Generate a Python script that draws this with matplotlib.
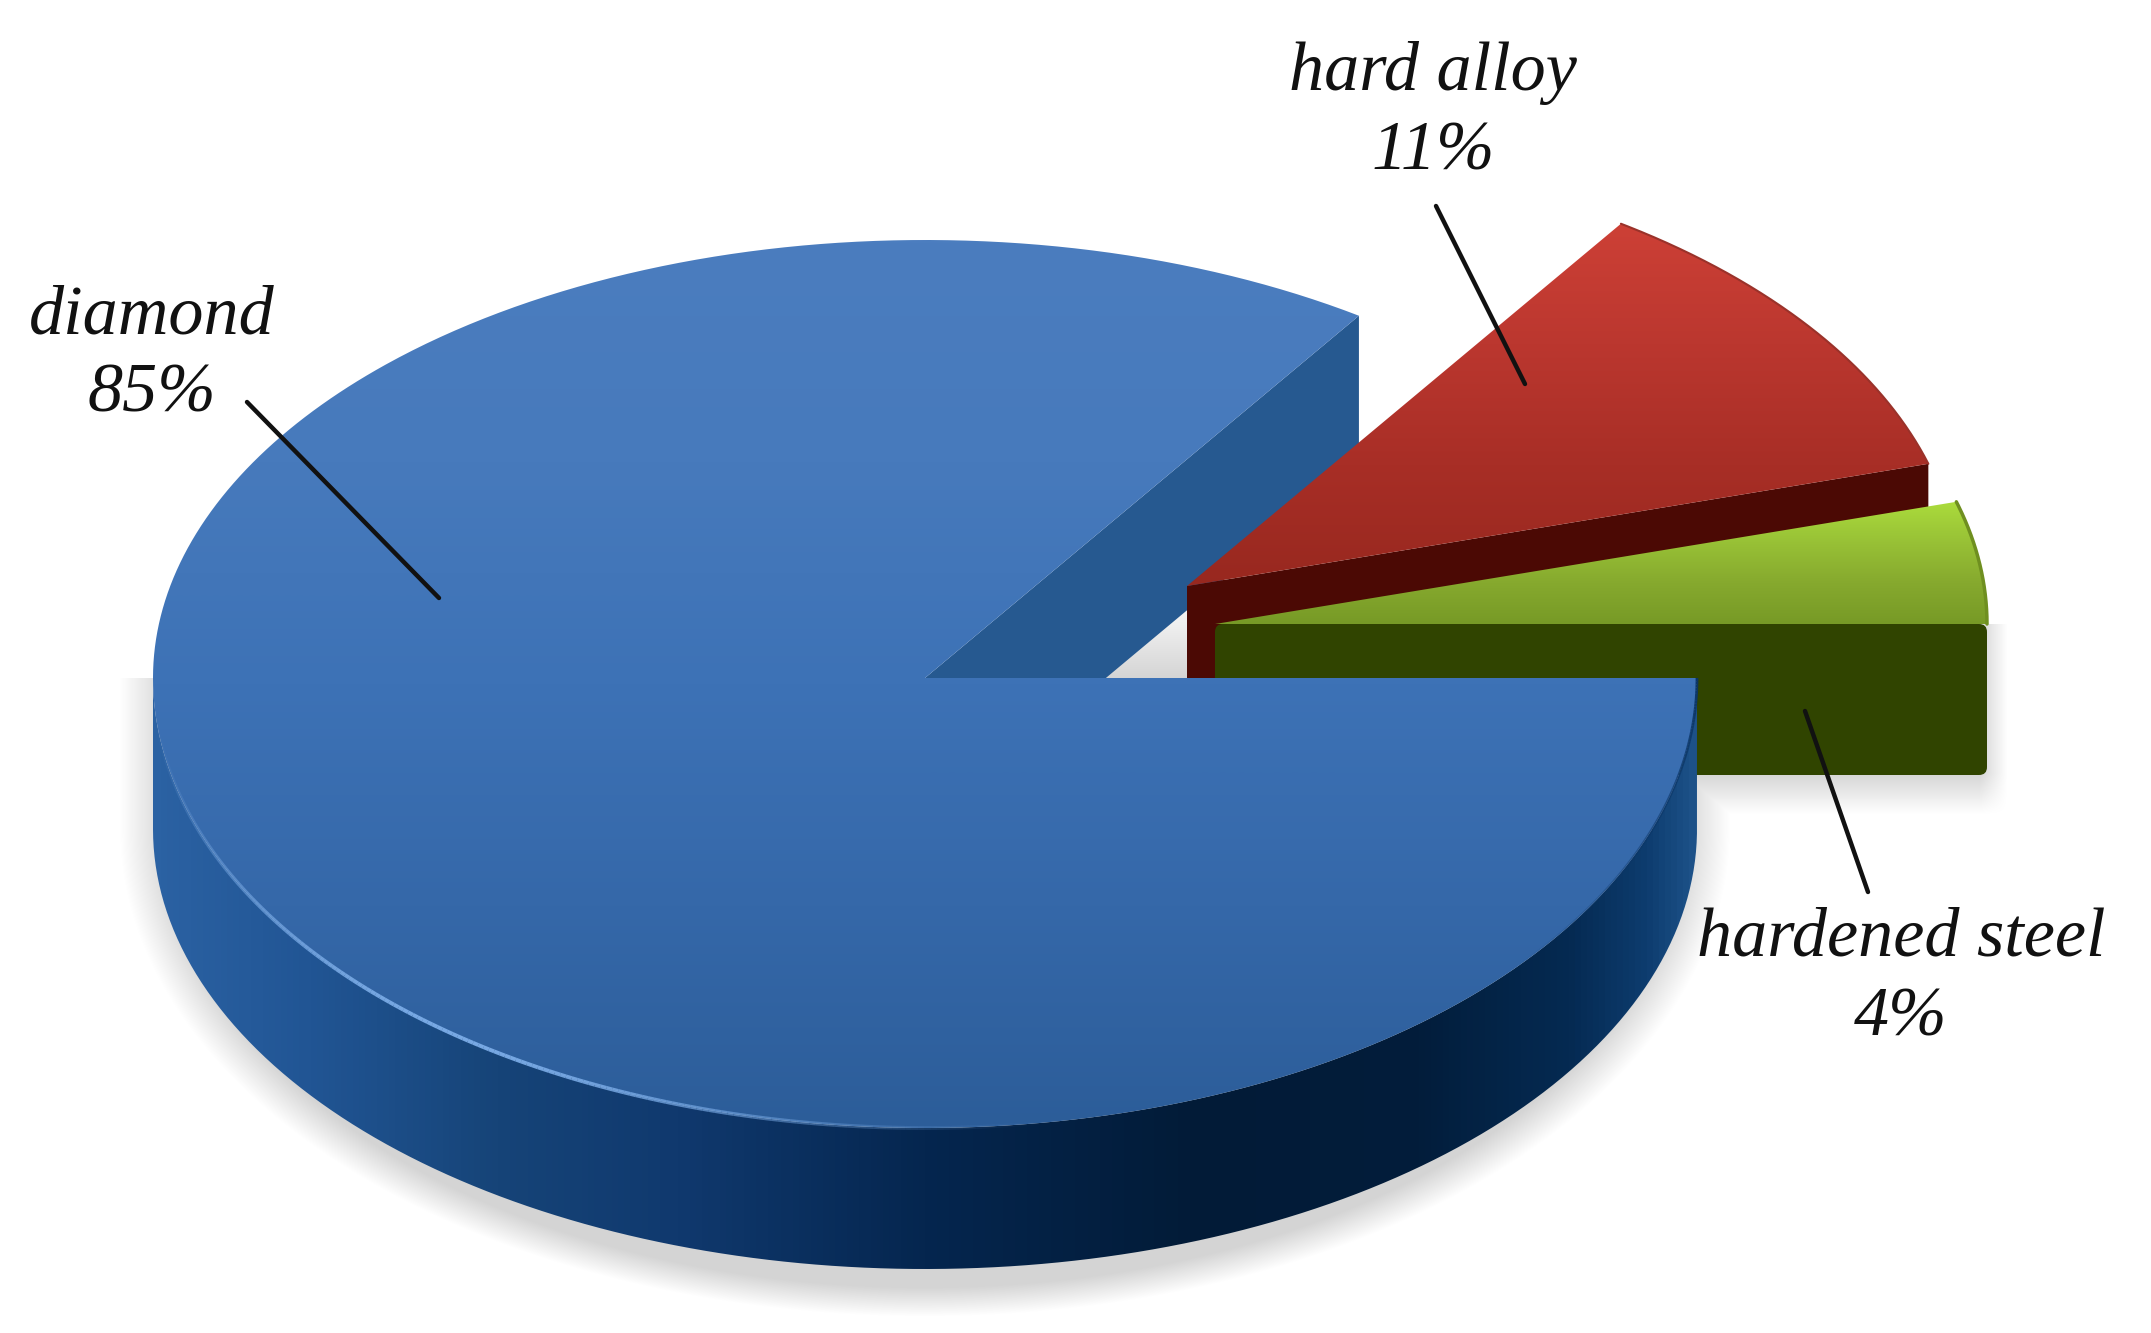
import numpy as np
import matplotlib
matplotlib.use("Agg")
import matplotlib.pyplot as plt
from matplotlib.collections import LineCollection
from matplotlib.colors import LinearSegmentedColormap, to_rgb
from matplotlib.patches import FancyBboxPatch, PathPatch
from matplotlib.path import Path

# data
labels = ["diamond", "hard alloy", "hardened steel"]
shares = [85, 11, 4]

W, H = 2151, 1333
CX, CY, RX, RY = 925, 678, 772, 438
RY_FRONT = 450  # front half of the top looks a bit larger
RY_FLOOR = 440
DEPTH = 151
ANGLE_SHIFT = 1.8  # the cuts sit a little past the plain share angle in the 3d view

RED_APEX = (1187, 586)
GREEN_APEX = (1215, 624)

fig = plt.figure(figsize=(W / 100, H / 100), dpi=100, facecolor="white")
ax = fig.add_axes([0, 0, 1, 1])

layer = 0


def next_z():
    global layer
    layer += 1
    return layer


def arc(cx, cy, t0, t1, n=300, front=RY):
    t = np.radians(np.linspace(t0, t1, n))
    s = np.sin(t)
    return np.column_stack([cx + RX * np.cos(t), cy - np.where(s > 0, RY, front) * s])


def shade(pts, stops, horizontal=False):
    # gradient image clipped to a polygon
    pts = np.asarray(pts)
    x0, x1 = pts[:, 0].min(), pts[:, 0].max()
    y0, y1 = pts[:, 1].min(), pts[:, 1].max()
    cmap = LinearSegmentedColormap.from_list("g", stops)
    g = np.linspace(0, 1, 512)
    g = g[None, :] if horizontal else g[:, None]
    z = next_z()
    im = ax.imshow(g, cmap=cmap, extent=(x0, x1, y1, y0), aspect="auto", vmin=0, vmax=1,
                   interpolation="bilinear", origin="upper", zorder=z)
    clip = PathPatch(Path(np.vstack([pts, pts[:1]])), transform=ax.transData, fc="none", ec="none", zorder=z)
    ax.add_patch(clip)
    im.set_clip_path(clip)


def fading_line(pts, color, strength, width):
    seg = np.stack([pts[:-1], pts[1:]], axis=1)
    cols = np.zeros((len(seg), 4))
    cols[:, :3] = to_rgb(color)
    cols[:, 3] = strength
    ax.add_collection(LineCollection(seg, colors=cols, linewidths=width, zorder=next_z()))


# slice limits, steel starts at east and runs counter clockwise
t_steel = shares[2] / sum(shares) * 360 + ANGLE_SHIFT
t_alloy = (shares[2] + shares[1]) / sum(shares) * 360 + ANGLE_SHIFT

# soft shadows
xx, yy = np.meshgrid(np.arange(W) + 0.5, np.arange(H) + 0.5)
dy = np.clip(yy - (CY + DEPTH), 0, None)
rn = np.sqrt(((xx - CX) / 806) ** 2 + (dy / 488) ** 2)
s1 = np.clip((1 - rn) / 0.06, 0, 1) * (yy >= CY)
s2 = np.clip((2008 - xx) / 28, 0, 1) * np.clip((815 - yy) / 42, 0, 1) * (yy >= GREEN_APEX[1]) * (xx > 1200)
s3 = np.clip((yy - 590) / 88, 0, 1) * (yy < CY) * (xx > 1050) * (xx < 1200)
alpha = np.maximum.reduce([s1, s2, s3]) * 0.17
shadow = np.zeros((H, W, 4))
shadow[..., 3] = alpha
ax.imshow(shadow, extent=(0, W, H, 0), aspect="auto", origin="upper", interpolation="nearest", zorder=next_z())

# cut face of the big slice
rim = arc(CX, CY, t_alloy, t_alloy)[0]
ax.fill([CX, rim[0], rim[0], CX], [CY, rim[1], rim[1] + DEPTH, CY + DEPTH], color="#265990", lw=0, zorder=next_z())

# hard alloy slice
ra = arc(RED_APEX[0], RED_APEX[1], t_steel, t_alloy)
ax.fill([RED_APEX[0], ra[0, 0], ra[0, 0], RED_APEX[0]],
        [RED_APEX[1], ra[0, 1], ra[0, 1] + DEPTH, RED_APEX[1] + DEPTH], color="#4b0904", lw=0, zorder=next_z())
red_top = np.vstack([[RED_APEX], ra])
shade(red_top, ["#cd4036", "#bb372f", "#a82e26", "#98281f"])
ax.plot(ra[:, 0], ra[:, 1], color="#9a322a", lw=1.5, solid_capstyle="round", zorder=next_z())

# hardened steel slice
ga = arc(GREEN_APEX[0], GREEN_APEX[1], 0, t_steel)
green_top = np.vstack([[GREEN_APEX], ga])
shade(green_top, ["#abdc3c", "#98c136", "#86a92e", "#779a26"])
ax.plot(ga[:, 0], ga[:, 1], color="#6f8f20", lw=2.5, solid_capstyle="round", zorder=next_z())
ax.add_patch(FancyBboxPatch((GREEN_APEX[0] + 6, GREEN_APEX[1] + 6), RX - 12, DEPTH - 12,
                            boxstyle="round,pad=6,rounding_size=8", fc="#304400", ec="none", zorder=next_z()))

# big slice, outer wall
front = arc(CX, CY, 180, 360, front=RY_FRONT)
floor = arc(CX, CY + DEPTH, 180, 360, front=RY_FLOOR)
wall = np.vstack([front, floor[::-1]])
shade(wall, [(0, "#2b62a3"), (0.1, "#215594"), (0.22, "#164478"), (0.34, "#10396e"),
             (0.5, "#05264f"), (0.68, "#021b37"), (0.82, "#021d3b"), (0.92, "#052a52"),
             (0.97, "#0d3c6e"), (1, "#1d5188")], horizontal=True)

# big slice, top
top = np.vstack([[(CX, CY)], arc(CX, CY, t_alloy, 360, 900, front=RY_FRONT)])
shade(top, ["#4b7dbf", "#477abc", "#3d72b6", "#3568a9", "#2c5d99"])

# light and dark lines on the rim
hl = arc(CX, CY, 185, 280, 200, front=RY_FRONT)
fading_line(hl, "#7cade8", np.sin(np.linspace(0, np.pi, len(hl) - 1)) ** 1.5 * 0.95, 2.8)
dk = arc(CX, CY, 320, 360, 100, front=RY_FRONT)
fading_line(dk, "#0b3566", np.linspace(0, 1, len(dk) - 1), 2.0)

# leaders
z = next_z()
for xs, ys in [((247, 439), (402, 598)), ((1436, 1525), (206, 384)), ((1805, 1868), (711, 892))]:
    ax.plot(xs, ys, color="#111111", lw=3.2, solid_capstyle="round", zorder=z)

# labels
positions = [(152, 333, 411), (1433, 90, 169), (1901, 956, 1036)]
for name, val, (x, y1, y2) in zip(labels, shares, positions):
    for txt, y in ((name, y1), (f"{val}%", y2)):
        ax.text(x, y, txt, ha="center", va="baseline", fontsize=50.5, color="#111111",
                family="Liberation Serif", style="italic", zorder=z)

ax.set_xlim(0, W)
ax.set_ylim(H, 0)
ax.axis("off")
fig.savefig("out.png", dpi=100, facecolor="white")
